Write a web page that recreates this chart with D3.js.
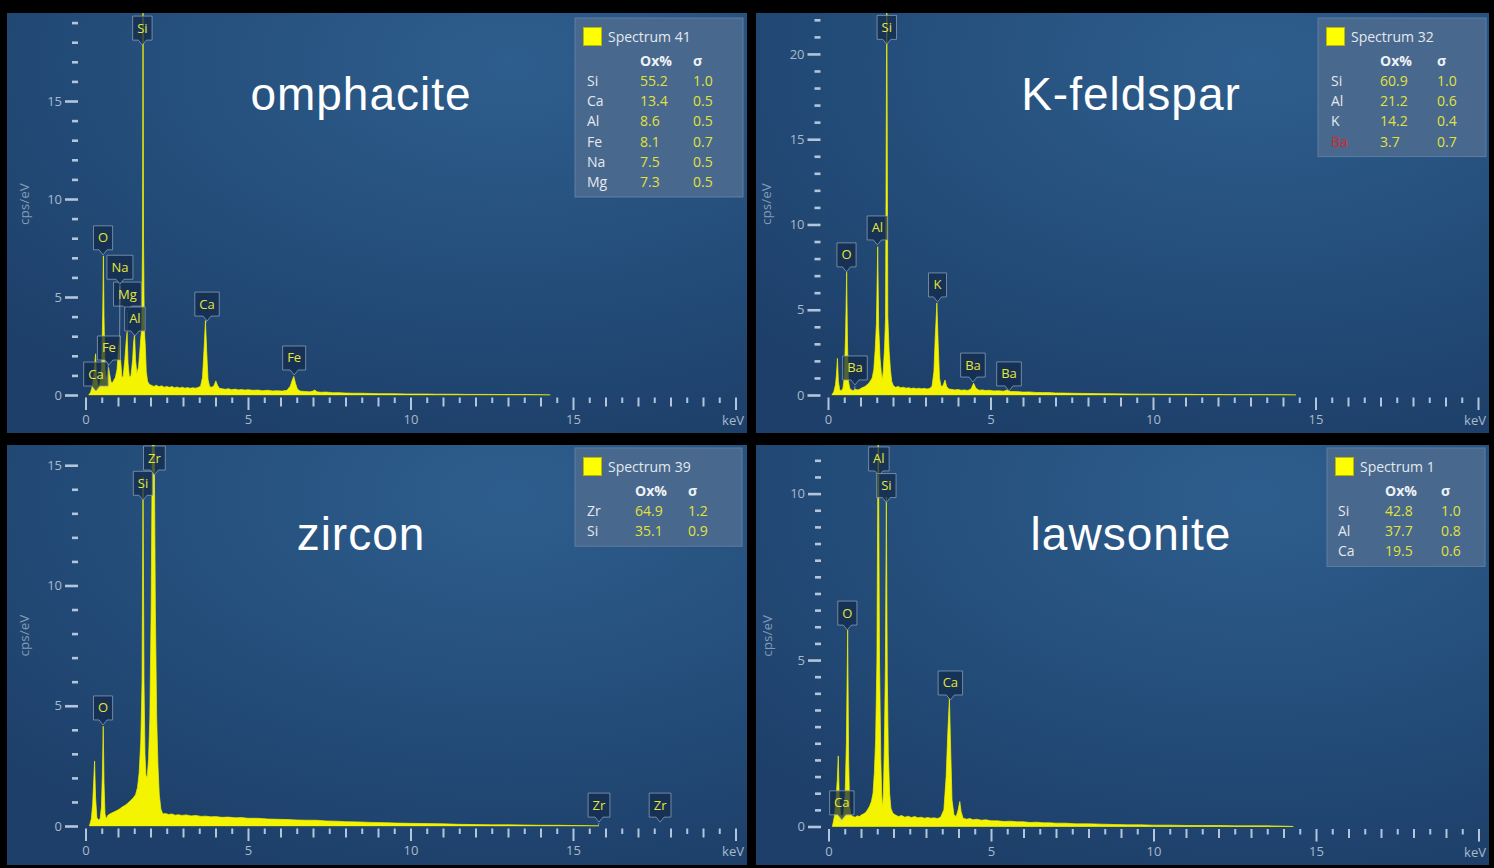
<!DOCTYPE html>
<html>
<head>
<meta charset="utf-8">
<title>EDS spectra</title>
<script src="https://cdn.jsdelivr.net/npm/d3@7/dist/d3.min.js"></script>
<style>
  html, body { margin: 0; padding: 0; background: #000; }
  svg { display: block; }
  text { font-family: "Open Sans", "Noto Sans", sans-serif; }
</style>
</head>
<body>
<svg id="chart" width="1494" height="868"></svg>
<script>
// ---------- spectra: [energy (keV), intensity (cps/eV)] ----------
const omphaciteSpectrum = [
  [0.10,0.00],[0.16,0.15],[0.21,0.45],[0.25,0.9],[0.28,1.5],[0.31,2.1],[0.34,0.9],[0.38,0.5],[0.42,0.45],
  [0.46,0.7],[0.50,1.6],[0.53,4.2],[0.55,7.1],[0.57,4.0],[0.60,1.3],[0.64,0.8],[0.68,1.1],[0.71,1.4],
  [0.74,1.1],[0.78,0.7],[0.82,0.6],[0.87,0.75],[0.92,0.9],[0.97,1.3],[1.01,2.2],[1.05,3.0],[1.08,1.8],
  [1.12,0.9],[1.16,0.95],[1.21,1.8],[1.25,2.7],[1.28,3.2],[1.31,1.6],[1.35,0.9],[1.40,1.0],[1.45,1.8],
  [1.48,2.7],[1.51,3.1],[1.54,1.8],[1.58,1.1],[1.63,1.4],[1.67,2.2],[1.70,2.9],[1.73,3.4],[1.755,8.0],
  [1.77,22.0],[1.785,8.0],[1.81,3.4],[1.84,2.5],[1.87,1.2],[1.91,0.7],[1.96,0.55],[2.02,0.5],[2.10,0.44],
  [2.18,0.5],[2.26,0.42],[2.34,0.47],[2.42,0.4],[2.50,0.44],[2.58,0.39],[2.66,0.43],[2.74,0.37],[2.82,0.41],
  [2.90,0.36],[2.98,0.4],[3.06,0.35],[3.14,0.38],[3.22,0.34],[3.30,0.37],[3.38,0.35],[3.46,0.38],[3.54,0.45],
  [3.60,0.9],[3.65,2.4],[3.69,3.8],[3.73,2.2],[3.77,0.8],[3.82,0.42],[3.90,0.4],[3.96,0.5],[4.01,0.72],
  [4.06,0.5],[4.12,0.34],[4.20,0.32],[4.30,0.29],[4.40,0.32],[4.50,0.27],[4.60,0.3],[4.70,0.26],[4.80,0.28],
  [4.90,0.25],[5.00,0.27],[5.15,0.24],[5.30,0.25],[5.45,0.22],[5.60,0.24],[5.75,0.21],[5.90,0.22],[6.05,0.2],
  [6.20,0.24],[6.30,0.45],[6.36,0.75],[6.41,0.95],[6.46,0.6],[6.52,0.3],[6.60,0.2],[6.75,0.18],[6.90,0.16],
  [7.00,0.2],[7.06,0.26],[7.12,0.16],[7.25,0.14],[7.40,0.15],[7.60,0.12],[7.80,0.12],[8.00,0.1],[8.25,0.09],
  [8.50,0.09],[8.75,0.08],[9.00,0.07],[9.30,0.07],[9.60,0.06],[9.90,0.05],[10.2,0.05],[10.5,0.05],[10.8,0.04],
  [11.1,0.04],[11.4,0.04],[11.7,0.03],[12.0,0.03],[12.4,0.03],[12.8,0.02],[13.2,0.02],[13.6,0.02],[14.0,0.01],
  [14.3,0.0]
];
const kFeldsparSpectrum = [
  [0.12,0.0],[0.18,0.2],[0.23,0.6],[0.26,1.2],[0.29,2.15],[0.32,0.8],[0.36,0.3],[0.41,0.25],[0.46,0.4],
  [0.50,1.0],[0.54,3.5],[0.575,7.2],[0.60,3.0],[0.63,0.8],[0.67,0.4],[0.72,0.3],[0.78,0.25],[0.84,0.35],
  [0.90,0.3],[0.96,0.32],[1.02,0.4],[1.08,0.45],[1.14,0.5],[1.20,0.6],[1.26,0.7],[1.31,0.85],[1.36,1.0],
  [1.41,1.5],[1.45,2.6],[1.49,4.2],[1.53,8.7],[1.56,4.0],[1.60,2.2],[1.64,1.3],[1.67,0.9],[1.70,1.4],
  [1.74,2.8],[1.77,4.5],[1.81,24.0],[1.84,4.6],[1.88,2.6],[1.92,1.5],[1.96,0.8],[2.01,0.55],[2.08,0.45],
  [2.16,0.5],[2.24,0.42],[2.32,0.46],[2.40,0.4],[2.48,0.43],[2.56,0.38],[2.64,0.41],[2.72,0.37],[2.80,0.4],
  [2.88,0.36],[2.96,0.39],[3.04,0.35],[3.12,0.38],[3.20,0.5],[3.26,1.4],[3.30,3.4],[3.35,5.4],[3.39,3.0],
  [3.43,1.0],[3.48,0.5],[3.54,0.55],[3.60,0.88],[3.65,0.5],[3.72,0.35],[3.80,0.33],[3.90,0.3],[4.00,0.32],
  [4.10,0.28],[4.20,0.3],[4.30,0.27],[4.40,0.35],[4.48,0.69],[4.55,0.4],[4.65,0.28],[4.75,0.3],[4.85,0.26],
  [4.95,0.28],[5.10,0.24],[5.25,0.25],[5.40,0.22],[5.52,0.3],[5.62,0.2],[5.80,0.2],[6.00,0.17],[6.20,0.18],
  [6.40,0.15],[6.60,0.14],[6.80,0.14],[7.00,0.12],[7.30,0.11],[7.60,0.1],[8.00,0.09],[8.40,0.08],[8.80,0.07],
  [9.20,0.06],[9.60,0.05],[10.0,0.05],[10.5,0.04],[11.0,0.04],[11.5,0.03],[12.0,0.03],[12.5,0.02],[13.0,0.02],
  [13.5,0.02],[14.0,0.01],[14.4,0.0]
];
const zirconSpectrum = [
  [0.12,0.0],[0.18,0.3],[0.22,0.9],[0.25,1.8],[0.28,2.7],[0.31,1.2],[0.35,0.35],[0.40,0.25],[0.45,0.3],
  [0.49,0.8],[0.52,2.2],[0.545,4.15],[0.57,1.8],[0.60,0.5],[0.64,0.3],[0.69,0.45],[0.75,0.5],[0.82,0.55],
  [0.90,0.6],[0.98,0.65],[1.06,0.72],[1.14,0.8],[1.22,0.86],[1.30,0.95],[1.38,1.05],[1.46,1.15],[1.54,1.3],
  [1.60,1.6],[1.65,2.2],[1.70,3.5],[1.74,6.0],[1.77,14.5],[1.80,6.0],[1.83,3.0],[1.86,2.1],[1.90,2.05],
  [1.94,2.8],[1.98,4.5],[2.02,9.0],[2.06,17.0],[2.11,17.0],[2.15,9.0],[2.19,4.5],[2.23,2.5],[2.27,1.3],
  [2.32,0.7],[2.38,0.5],[2.46,0.52],[2.56,0.48],[2.66,0.5],[2.76,0.45],[2.86,0.47],[2.96,0.44],[3.10,0.46],
  [3.25,0.42],[3.40,0.44],[3.55,0.4],[3.70,0.41],[3.85,0.38],[4.00,0.39],[4.20,0.36],[4.40,0.37],[4.60,0.34],
  [4.80,0.35],[5.00,0.32],[5.30,0.32],[5.60,0.29],[5.90,0.28],[6.20,0.27],[6.50,0.25],[6.80,0.24],[7.10,0.24],
  [7.40,0.21],[7.70,0.2],[8.00,0.18],[8.40,0.17],[8.80,0.15],[9.20,0.14],[9.60,0.12],[10.0,0.11],[10.5,0.1],
  [11.0,0.09],[11.5,0.07],[12.0,0.06],[12.5,0.05],[13.0,0.05],[13.5,0.04],[14.0,0.03],[14.5,0.03],[15.0,0.02],
  [15.5,0.01],[15.8,0.0]
];
const lawsoniteSpectrum = [
  [0.12,0.0],[0.18,0.3],[0.23,0.8],[0.27,1.4],[0.30,2.12],[0.33,0.9],[0.37,0.35],[0.42,0.3],[0.47,0.4],
  [0.51,0.9],[0.55,2.5],[0.59,5.9],[0.62,2.0],[0.65,0.6],[0.69,0.35],[0.75,0.3],[0.82,0.28],[0.88,0.32],
  [0.95,0.3],[1.02,0.35],[1.08,0.38],[1.14,0.42],[1.20,0.5],[1.26,0.6],[1.32,0.75],[1.37,1.0],[1.41,1.6],
  [1.45,2.6],[1.49,5.0],[1.53,13.0],[1.57,5.0],[1.61,2.0],[1.64,0.9],[1.66,0.55],[1.69,1.0],[1.72,2.5],
  [1.75,4.8],[1.78,9.9],[1.81,4.5],[1.84,2.2],[1.88,1.0],[1.92,0.55],[1.98,0.4],[2.05,0.35],[2.15,0.3],
  [2.25,0.33],[2.35,0.28],[2.45,0.31],[2.55,0.27],[2.65,0.3],[2.75,0.26],[2.85,0.28],[2.95,0.25],[3.05,0.27],
  [3.15,0.25],[3.25,0.26],[3.35,0.24],[3.45,0.28],[3.55,0.5],[3.62,1.5],[3.67,2.8],[3.72,3.85],[3.76,2.3],
  [3.80,0.8],[3.86,0.35],[3.93,0.3],[3.99,0.5],[4.04,0.75],[4.08,0.45],[4.14,0.25],[4.25,0.22],[4.35,0.24],
  [4.45,0.2],[4.55,0.22],[4.70,0.19],[4.85,0.2],[5.00,0.17],[5.20,0.17],[5.40,0.15],[5.60,0.16],[5.80,0.14],
  [6.00,0.14],[6.20,0.12],[6.40,0.13],[6.60,0.11],[6.80,0.11],[7.00,0.1],[7.30,0.1],[7.60,0.08],[8.00,0.08],
  [8.40,0.07],[8.80,0.06],[9.20,0.05],[9.60,0.05],[10.0,0.04],[10.5,0.04],[11.0,0.03],[11.5,0.03],[12.0,0.03],
  [12.5,0.02],[13.0,0.02],[13.5,0.02],[14.0,0.01],[14.3,0.0]
];

// ---------- peak markers: [element, peak keV, label keV, pointer level cps/eV] ----------
const omphaciteMarkers = [
  ["Ca",0.31,0.32,0.15],["Fe",0.71,0.72,1.48],["O",0.55,0.54,7.1],["Mg",1.28,1.29,4.23],
  ["Al",1.51,1.52,2.96],["Na",1.05,1.06,5.6],["Si",1.77,1.75,17.8],["Ca",3.69,3.74,3.72],["Fe",6.41,6.42,0.97]
];
const kFeldsparMarkers = [
  ["Ba",0.80,0.83,0.53],["O",0.575,0.57,7.16],["Al",1.53,1.52,8.74],["Si",1.81,1.81,20.5],
  ["K",3.35,3.37,5.4],["Ba",4.48,4.46,0.7],["Ba",5.55,5.57,0.18]
];
const zirconMarkers = [
  ["O",0.545,0.54,4.16],["Si",1.77,1.77,13.5],["Zr",2.08,2.12,14.55],["Zr",15.77,15.8,0.12],["Zr",17.67,17.68,0.12]
];
const lawsoniteMarkers = [
  ["Ca",0.30,0.41,0.17],["O",0.59,0.58,5.87],["Al",1.53,1.55,10.5],["Si",1.78,1.78,9.7],["Ca",3.72,3.75,3.77]
];

// ---------- quantification tables ----------
const omphaciteElements = ["Si","Ca","Al","Fe","Na","Mg"];
const omphaciteOxide    = [55.2,13.4,8.6,8.1,7.5,7.3];
const omphaciteSigma    = [1.0,0.5,0.5,0.7,0.5,0.5];
const kFeldsparElements = ["Si","Al","K","Ba"];
const kFeldsparOxide    = [60.9,21.2,14.2,3.7];
const kFeldsparSigma    = [1.0,0.6,0.4,0.7];
const kFeldsparFlagged  = ["Ba"];
const zirconElements    = ["Zr","Si"];
const zirconOxide       = [64.9,35.1];
const zirconSigma       = [1.2,0.9];
const lawsoniteElements = ["Si","Al","Ca"];
const lawsoniteOxide    = [42.8,37.7,19.5];
const lawsoniteSigma    = [1.0,0.8,0.6];

const mineralNames    = ["omphacite","K-feldspar","zircon","lawsonite"];
const spectrumNumbers = [41,32,39,1];
const xTickLabels     = [0,5,10,15];
const yMajorTicks     = [[0,5,10,15],[0,5,10,15,20],[0,5,10,15],[0,5,10]];
const yMinorSteps     = [1,1,1,0.5];
const yMinorLimits    = [19,22,15,11];

// ---------- layout ----------
const layout = [
  {fx:7,   fy:13,  fw:740, fh:420, x0:85.5, y0:395,   yMax:19.49, title:[361,110],  legend:{x:575,  y:18,  w:168, cols:[12,65,118]}},
  {fx:756, fy:13,  fw:733, fh:420, x0:828,  y0:395,   yMax:22.4,  title:[1131,110], legend:{x:1318, y:18,  w:168, cols:[13,62,119]}},
  {fx:7,   fy:445, fw:740, fh:420, x0:85.5, y0:826,   yMax:15.84, title:[361,550],  legend:{x:575,  y:448, w:167, cols:[12,60,113]}},
  {fx:756, fy:445, fw:733, fh:420, x0:828.5,y0:826.5, yMax:11.46, title:[1131,550], legend:{x:1327, y:448, w:158, cols:[11,58,114]}}
];

const spectra  = [omphaciteSpectrum, kFeldsparSpectrum, zirconSpectrum, lawsoniteSpectrum];
const markers  = [omphaciteMarkers, kFeldsparMarkers, zirconMarkers, lawsoniteMarkers];
const tables   = [
  {names:omphaciteElements, ox:omphaciteOxide, sig:omphaciteSigma, flagged:[]},
  {names:kFeldsparElements, ox:kFeldsparOxide, sig:kFeldsparSigma, flagged:kFeldsparFlagged},
  {names:zirconElements,    ox:zirconOxide,    sig:zirconSigma,    flagged:[]},
  {names:lawsoniteElements, ox:lawsoniteOxide, sig:lawsoniteSigma, flagged:[]}
];

const svg = d3.select("#chart");
const defs = svg.append("defs");

const bg = defs.append("radialGradient").attr("id","panelBg")
  .attr("cx",0.68).attr("cy",0.12).attr("r",0.95).attr("fx",0.68).attr("fy",0.12);
bg.append("stop").attr("offset","0%").attr("stop-color","#2e5e8d");
bg.append("stop").attr("offset","55%").attr("stop-color","#244d7a");
bg.append("stop").attr("offset","100%").attr("stop-color","#1d3f69");

const tickColor = "#b3c5da";
const labelColor = "#a9b9cb";
const specColor = "#f4f400";

layout.forEach((L, i) => {
  const g = svg.append("g");
  g.append("rect").attr("x",L.fx).attr("y",L.fy).attr("width",L.fw).attr("height",L.fh)
    .attr("fill","url(#panelBg)");

  const x = d3.scaleLinear().domain([0,20]).range([L.x0, L.x0 + 650]);
  const y = d3.scaleLinear().domain([0,L.yMax]).range([L.y0, L.fy]);

  // mineral name
  g.append("text").attr("x",L.title[0]).attr("y",L.title[1])
    .attr("text-anchor","middle")
    .style("font-family","'Liberation Sans', Arial, sans-serif")
    .style("font-size","46px").style("letter-spacing","1px")
    .attr("fill","#ffffff").text(mineralNames[i]);

  // y axis: major ticks with labels, minor ticks
  const yAxisX = L.x0 - 7.5;
  const yMaj = g.append("g").attr("transform",`translate(${yAxisX},0)`)
    .call(d3.axisLeft(y).tickValues(yMajorTicks[i]).tickSize(13).tickPadding(3).tickFormat(d3.format("d")));
  const minors = d3.range(0, yMinorLimits[i] + 1e-6, yMinorSteps[i]).filter(v => !yMajorTicks[i].includes(v));
  const yMin = g.append("g").attr("transform",`translate(${yAxisX},0)`)
    .call(d3.axisLeft(y).tickValues(minors).tickSize(6).tickFormat(""));
  [yMaj, yMin].forEach(a => {
    a.select(".domain").remove();
    a.selectAll(".tick line").attr("stroke",tickColor).attr("stroke-width",2.6);
    a.selectAll(".tick text").attr("fill",labelColor).style("font-size","13px")
      .style("font-family","'Open Sans', sans-serif");
  });

  g.append("text")
    .attr("transform",`translate(${L.x0 - 57},${(L.y0 + L.fy)/2}) rotate(-90)`)
    .attr("text-anchor","middle").attr("fill","#839cb8").style("font-size","13.5px")
    .text("cps/eV");

  // x axis ticks every 0.5 keV, longer on whole numbers and multiples of 5
  const xT = g.append("g").attr("transform",`translate(0,${L.y0 + 2.5})`)
    .call(d3.axisBottom(x).tickValues(d3.range(0, 20.001, 0.5)).tickSize(8).tickFormat(""));
  xT.select(".domain").remove();
  xT.selectAll(".tick line").attr("stroke",tickColor).attr("stroke-width",2)
    .attr("y2", d => d % 5 === 0 ? 12.5 : (d % 1 === 0 ? 9 : 5.5));
  const xL = g.append("g").attr("transform",`translate(0,${L.y0})`)
    .call(d3.axisBottom(x).tickValues(xTickLabels).tickSize(0).tickPadding(20).tickFormat(d3.format("d")));
  xL.select(".domain").remove();
  xL.selectAll(".tick text").attr("fill",labelColor).style("font-size","13px")
    .style("font-family","'Open Sans', sans-serif");
  g.append("text").attr("x",L.fx + L.fw - 3).attr("y",L.y0 + 30).attr("text-anchor","end")
    .attr("fill",labelColor).style("font-size","13px").text("keV");

  // spectrum
  const clipId = "clip" + i;
  defs.append("clipPath").attr("id",clipId).append("rect")
    .attr("x",L.x0 - 2).attr("y",L.fy).attr("width",L.fx + L.fw - L.x0).attr("height",L.y0 - L.fy + 0.5);
  const area = d3.area().x(d => x(d[0])).y0(y(0)).y1(d => y(d[1]));
  g.append("path").datum(spectra[i]).attr("clip-path",`url(#${clipId})`)
    .attr("d",area).attr("fill",specColor).attr("stroke",specColor).attr("stroke-width",0.7)
    .attr("stroke-linejoin","round");

  // peak markers
  const mg = g.append("g");
  markers[i].forEach(([el, e, lx, tip]) => {
    const cx = x(lx), ty = y(tip);
    const near = spectra[i].filter(d => Math.abs(d[0] - e) < 0.035);
    const apex = near.length ? d3.max(near, d => d[1]) : tip;
    const ay = Math.max(y(apex), L.fy);
    const m = mg.append("g");
    if (ay > ty + 2 || Math.abs(x(e) - cx) > 1.5) {
      m.append("line").attr("x1",cx).attr("y1",ty).attr("x2",x(e)).attr("y2",Math.max(ay, ty))
        .attr("stroke","rgba(190,200,215,0.55)").attr("stroke-width",1);
    }
    const box = m.append("path");
    const t = m.append("text").attr("x",cx).attr("y",ty - 13.5).attr("text-anchor","middle")
      .attr("fill","#e6e63c").style("font-size","13px").text(el);
    const w = Math.max(18, t.node().getComputedTextLength() + 9);
    const l = cx - w/2, r = cx + w/2, top = ty - 30, b = ty - 6;
    box.attr("d",`M${l},${top}H${r}V${b}H${cx+4}L${cx},${ty-1}L${cx-4},${b}H${l}Z`)
      .attr("fill","rgba(18,42,72,0.72)").attr("stroke","rgba(140,162,188,0.75)").attr("stroke-width",1);
  });

  // quantification legend
  const T = tables[i], Lg = L.legend;
  const rowH = 20.2;
  const h = 63 + (T.names.length - 1) * rowH + 15;
  const lg = g.append("g");
  lg.append("rect").attr("x",Lg.x).attr("y",Lg.y).attr("width",Lg.w).attr("height",h)
    .attr("fill","#48688d").attr("stroke","#5e7ea2").attr("stroke-width",1);
  lg.append("rect").attr("x",Lg.x + 8.5).attr("y",Lg.y + 9.5).attr("width",18).attr("height",18)
    .attr("fill","#ffff00").attr("stroke","#b8b800").attr("stroke-width",1);
  lg.append("text").attr("x",Lg.x + 33).attr("y",Lg.y + 24).attr("fill","#e4e9ef")
    .style("font-size","14px").text("Spectrum " + spectrumNumbers[i]);
  lg.append("text").attr("x",Lg.x + Lg.cols[1]).attr("y",Lg.y + 48).attr("fill","#eef2f6")
    .style("font-size","14px").style("font-weight","bold").text("Ox%");
  lg.append("text").attr("x",Lg.x + Lg.cols[2]).attr("y",Lg.y + 48).attr("fill","#eef2f6")
    .style("font-size","14px").style("font-weight","bold").text("σ");
  T.names.forEach((n, k) => {
    const by = Lg.y + 68 + k * rowH;
    lg.append("text").attr("x",Lg.x + Lg.cols[0]).attr("y",by)
      .attr("fill", T.flagged.includes(n) ? "#d62828" : "#e4e9ef").style("font-size","14px").text(n);
    lg.append("text").attr("x",Lg.x + Lg.cols[1]).attr("y",by).attr("fill","#e2e23c")
      .style("font-size","14px").text(T.ox[k].toFixed(1));
    lg.append("text").attr("x",Lg.x + Lg.cols[2]).attr("y",by).attr("fill","#e2e23c")
      .style("font-size","14px").text(T.sig[k].toFixed(1));
  });
});
</script>
</body>
</html>
